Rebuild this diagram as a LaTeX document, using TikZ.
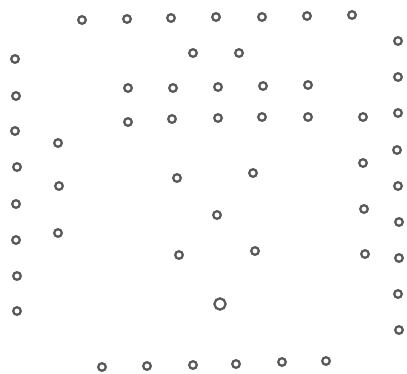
\documentclass[tikz,border=0pt]{standalone}
\usepackage{tikz}

\tikzset{
  ring/.style={circle, draw=black!65, line width=1.6pt, inner sep=0pt, minimum size=0.19cm},
  bigring/.style={ring, minimum size=0.28cm}
}

\begin{document}
\begin{tikzpicture}[x=0.025cm, y=-0.025cm]
\useasboundingbox (0,0) rectangle (407,374);
\node[ring] (t1) at (82,20) {};
\node[ring] (t2) at (127,19) {};
\node[ring] (t3) at (171,18) {};
\node[ring] (t4) at (216,17) {};
\node[ring] (t5) at (262,17) {};
\node[ring] (t6) at (307,16) {};
\node[ring] (t7) at (352,15) {};
\node[ring] (u1) at (193,53) {};
\node[ring] (u2) at (239,53) {};
\node[ring] (a1) at (128,88) {};
\node[ring] (a2) at (173,88) {};
\node[ring] (a3) at (218,87) {};
\node[ring] (a4) at (263,86) {};
\node[ring] (a5) at (308,85) {};
\node[ring] (b1) at (128,122) {};
\node[ring] (b2) at (172,119) {};
\node[ring] (b3) at (218,118) {};
\node[ring] (b4) at (262,117) {};
\node[ring] (b5) at (308,117) {};
\node[ring] (b6) at (363,117) {};
\node[ring] (l1) at (15,59) {};
\node[ring] (l2) at (16,96) {};
\node[ring] (l3) at (15,131) {};
\node[ring] (l4) at (17,167) {};
\node[ring] (l5) at (16,204) {};
\node[ring] (l6) at (16,240) {};
\node[ring] (l7) at (17,276) {};
\node[ring] (l8) at (17,311) {};
\node[ring] (s1) at (58,143) {};
\node[ring] (s2) at (59,186) {};
\node[ring] (s3) at (58,233) {};
\node[ring] (m1) at (177,178) {};
\node[ring] (m2) at (253,173) {};
\node[ring] (m3) at (217,215) {};
\node[ring] (m4) at (179,255) {};
\node[ring] (m5) at (255,251) {};
\node[bigring] (m6) at (220,304) {};
\node[ring] (c1) at (363,163) {};
\node[ring] (c2) at (364,209) {};
\node[ring] (c3) at (365,254) {};
\node[ring] (r1) at (398,41) {};
\node[ring] (r2) at (398,77) {};
\node[ring] (r3) at (398,113) {};
\node[ring] (r4) at (397,150) {};
\node[ring] (r5) at (398,186) {};
\node[ring] (r6) at (399,222) {};
\node[ring] (r7) at (399,258) {};
\node[ring] (r8) at (398,294) {};
\node[ring] (r9) at (399,330) {};
\node[ring] (d1) at (102,367) {};
\node[ring] (d2) at (147,366) {};
\node[ring] (d3) at (193,365) {};
\node[ring] (d4) at (236,364) {};
\node[ring] (d5) at (282,362) {};
\node[ring] (d6) at (326,361) {};
\end{tikzpicture}
\end{document}
